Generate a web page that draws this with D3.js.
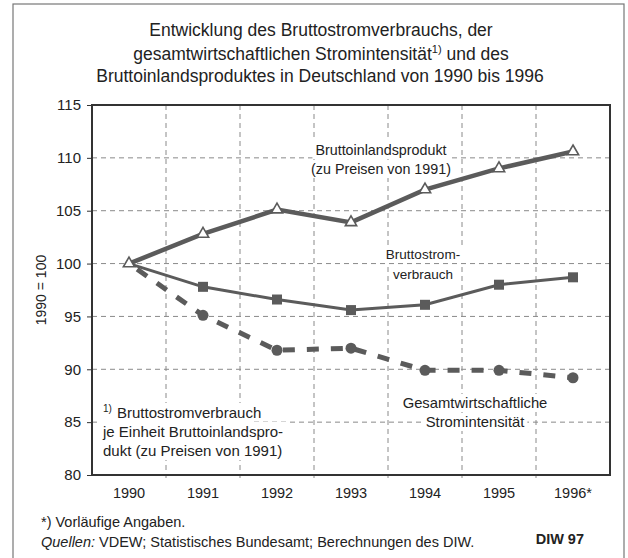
<!DOCTYPE html>
<html><head><meta charset="utf-8">
<script src="https://cdn.jsdelivr.net/npm/d3@7/dist/d3.min.js"></script>
<style>body{margin:0;background:#fff}svg{display:block}text{font-family:"Liberation Sans",Arial,sans-serif;fill:#222}</style>
</head><body><svg id="c" width="628" height="558"></svg>
<script>
const years = ["1990","1991","1992","1993","1994","1995","1996"];
const yearLabels = ["1990","1991","1992","1993","1994","1995","1996*"];
const bip = [100, 102.8, 105.1, 103.9, 107.0, 109.0, 110.6];
const strom = [100, 97.8, 96.6, 95.6, 96.1, 98.0, 98.7];
const intens = [100, 95.1, 91.8, 92.0, 89.9, 89.9, 89.2];
const yTicks = [80, 85, 90, 95, 100, 105, 110, 115];

const svg = d3.select("#c");
const L = 92, R = 610, T = 105, B = 475;
const x = d3.scaleBand().domain(years).range([L, R]);
const y = d3.scaleLinear().domain([80, 115]).range([B, T]);
const cx = d => x(d) + x.bandwidth() / 2;
const lineCol = "#5b5b5b";
const FF = '"Liberation Sans",Arial,sans-serif';

// outer frame
svg.append("rect").attr("x", 13).attr("y", 4).attr("width", 611).attr("height", 560)
  .attr("fill", "none").attr("stroke", "#777").attr("stroke-width", 1.2);

// title
const tg = svg.append("g").attr("font-size", 17.5).attr("text-anchor", "middle");
tg.append("text").attr("x", 321).attr("y", 36).text("Entwicklung des Bruttostromverbrauchs, der");
const t2 = tg.append("text").attr("x", 321).attr("y", 60);
t2.append("tspan").text("gesamtwirtschaftlichen Stromintensität");
t2.append("tspan").attr("dy", -7).attr("font-size", 11).text("1)");
t2.append("tspan").attr("dy", 7).text(" und des");
tg.append("text").attr("x", 320).attr("y", 82).text("Bruttoinlandsproduktes in Deutschland von 1990 bis 1996");

// grid
const grid = svg.append("g").attr("stroke", "#8a8a8a").attr("stroke-width", 1).attr("stroke-dasharray", "5,4");
yTicks.filter(v => v > 80 && v < 115).forEach(v => {
  grid.append("line").attr("x1", L).attr("x2", R).attr("y1", y(v)).attr("y2", y(v));
});
years.slice(1).forEach(d => {
  grid.append("line").attr("x1", x(d)).attr("x2", x(d)).attr("y1", T).attr("y2", B + 3);
});

// annotations with white backgrounds
function label(lines, xc, ys, anchor, size) {
  const g = svg.append("g").attr("font-size", size).attr("text-anchor", anchor);
  const texts = lines.map((s, i) => g.append("text").attr("x", xc).attr("y", ys[i]).text(s));
  texts.forEach(t => {
    const bb = t.node().getBBox();
    g.insert("rect", "text").attr("x", bb.x - 3).attr("y", bb.y - 1).attr("width", bb.width + 6).attr("height", bb.height + 2).attr("fill", "#fff");
  });
  return texts;
}
label(["Bruttoinlandsprodukt", "(zu Preisen von 1991)"], 381, [155, 174], "middle", 14.3);
label(["Bruttostrom-", "verbrauch"], 423, [259, 279], "middle", 13.5);
label(["Gesamtwirtschaftliche", "Stromintensität"], 475, [408, 427], "middle", 14.8);
const fnt = label(["Bruttostromverbrauch", "je Einheit Bruttoinlandspro-", "dukt (zu Preisen von 1991)"], 103, [418, 437, 456], "start", 15);
fnt[0].attr("x", 117);
svg.append("text").attr("x", 103).attr("y", 412).attr("font-size", 10).text("1)");

// frame
svg.append("rect").attr("x", L).attr("y", T).attr("width", R - L).attr("height", B - T)
  .attr("fill", "none").attr("stroke", "#333").attr("stroke-width", 2);

// y axis
const ya = svg.append("g").attr("transform", `translate(${L},0)`)
  .call(d3.axisLeft(y).tickValues(yTicks).tickSize(5).tickPadding(6));
ya.select(".domain").remove();
ya.selectAll("text").attr("font-size", 15).attr("fill", "#222").style("font-family", FF);
ya.selectAll("line").attr("stroke", "#333");

// x axis labels
const xa = svg.append("g").attr("transform", `translate(0,${B})`)
  .call(d3.axisBottom(x).tickFormat((d, i) => yearLabels[i]).tickSize(0).tickPadding(13));
xa.select(".domain").remove();
xa.selectAll("text").attr("font-size", 14.5).attr("fill", "#222").style("font-family", FF);

// y axis title
svg.append("text").attr("transform", "translate(46,290) rotate(-90)").attr("text-anchor", "middle")
  .attr("font-size", 14).text("1990 = 100");

// lines
const lg = d3.line().x((d, i) => cx(years[i])).y(d => y(d));
svg.append("path").datum(intens).attr("d", lg).attr("fill", "none").attr("stroke", lineCol)
  .attr("stroke-width", 5).attr("stroke-dasharray", "12,12").attr("stroke-dashoffset", -10);
svg.append("path").datum(strom).attr("d", lg).attr("fill", "none").attr("stroke", lineCol).attr("stroke-width", 3);
svg.append("path").datum(bip).attr("d", lg).attr("fill", "none").attr("stroke", lineCol).attr("stroke-width", 4.5);

// markers
svg.append("g").selectAll("circle").data(intens.slice(1)).join("circle")
  .attr("cx", (d, i) => cx(years[i + 1])).attr("cy", d => y(d)).attr("r", 5.5).attr("fill", lineCol);
svg.append("g").selectAll("rect").data(strom.slice(1)).join("rect")
  .attr("x", (d, i) => cx(years[i + 1]) - 5).attr("y", d => y(d) - 5).attr("width", 10).attr("height", 10).attr("fill", lineCol);
const tri = d3.symbol().type(d3.symbolTriangle).size(55);
svg.append("g").selectAll("path").data(bip).join("path")
  .attr("transform", (d, i) => `translate(${cx(years[i])},${y(d)})`).attr("d", tri)
  .attr("fill", "#fff").attr("stroke", lineCol).attr("stroke-width", 1.6);

// footer
const fg = svg.append("g").attr("font-size", 14.5);
fg.append("text").attr("x", 41).attr("y", 527).text("*) Vorläufige Angaben.");
const q = fg.append("text").attr("x", 41).attr("y", 547);
q.append("tspan").attr("font-style", "italic").text("Quellen:");
q.append("tspan").text("  VDEW; Statistisches Bundesamt; Berechnungen des DIW.");
fg.append("text").attr("x", 584).attr("y", 544).attr("text-anchor", "end").attr("font-weight", "bold").attr("font-size", 14.5).attr("fill", "#444").text("DIW 97");
</script></body></html>
